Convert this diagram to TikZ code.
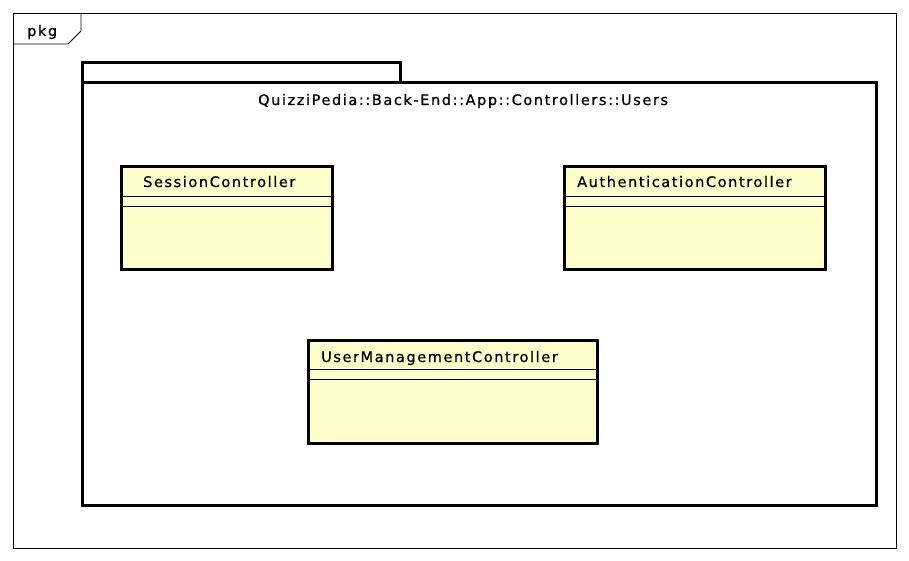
\documentclass[tikz,border=0pt]{standalone}
\usepackage{fontspec}
\setmainfont{DejaVu Sans}[LetterSpace=11, FakeBold=0.8]
\usepackage{xcolor}
\usetikzlibrary{positioning}
\definecolor{classfill}{HTML}{FFFFCC}
\tikzstyle{frame} = [draw, line width=0.9pt]
\tikzstyle{pkgbox} = [draw, line width=3pt, rectangle, inner sep=0pt, outer sep=0pt, anchor=north west]
\tikzstyle{classbox} = [draw, line width=3pt, fill=classfill, rectangle, inner sep=0pt, outer sep=0pt, anchor=north west]
\tikzstyle{umltext} = [anchor=base west, inner sep=0pt, font=\fontsize{14.5}{17}\selectfont]
\tikzstyle{sep} = [draw, line width=1.1pt]

\begin{document}
\begin{tikzpicture}[x=1pt, y=-1pt]
    \useasboundingbox (0,0) rectangle (909,561);
    % outer frame
    \node [draw, line width=0.9pt, rectangle, inner sep=0pt, outer sep=0pt, anchor=north west,
           minimum width=883pt, minimum height=535pt] (frame) at (13,13) {};
    \coordinate (tabA) at (13,44);
    \coordinate (tabB) at (68,44);
    \coordinate (tabC) at (81,31);
    \coordinate (tabD) at (81,13);
    \path [frame] (tabA) -- (tabB) -- (tabC) -- (tabD);
    \node [umltext] (pkg) at (27,36) {pkg};

    % package
    \node [pkgbox, minimum width=318pt, minimum height=20pt] (tab) at (82,63) {};
    \node [pkgbox, minimum width=794pt, minimum height=422pt] (users) at (82,83) {};
    \node [umltext] (title) at (258,105) {QuizziPedia::Back-End::App::Controllers::Users};

    % Place nodes
    \node [classbox, minimum width=211pt, minimum height=102pt] (session) at (121,167) {};
    \node [classbox, minimum width=261pt, minimum height=102pt] (auth) at (564,167) {};
    \node [classbox, minimum width=289pt, minimum height=103pt] (usermgmt) at (308,340) {};

    \node [umltext] (sessionname) at (143,187) {SessionController};
    \node [umltext] (authname) at (577,187) {AuthenticationController};
    \node [umltext] (usermgmtname) at (321,362) {UserManagementController};

    \foreach \c in {session,auth,usermgmt} {
        \path [sep] ([yshift=-29.5pt]\c.north west) -- ([yshift=-29.5pt]\c.north east);
        \path [sep] ([yshift=-39.5pt]\c.north west) -- ([yshift=-39.5pt]\c.north east);
    }
\end{tikzpicture}
\end{document}
